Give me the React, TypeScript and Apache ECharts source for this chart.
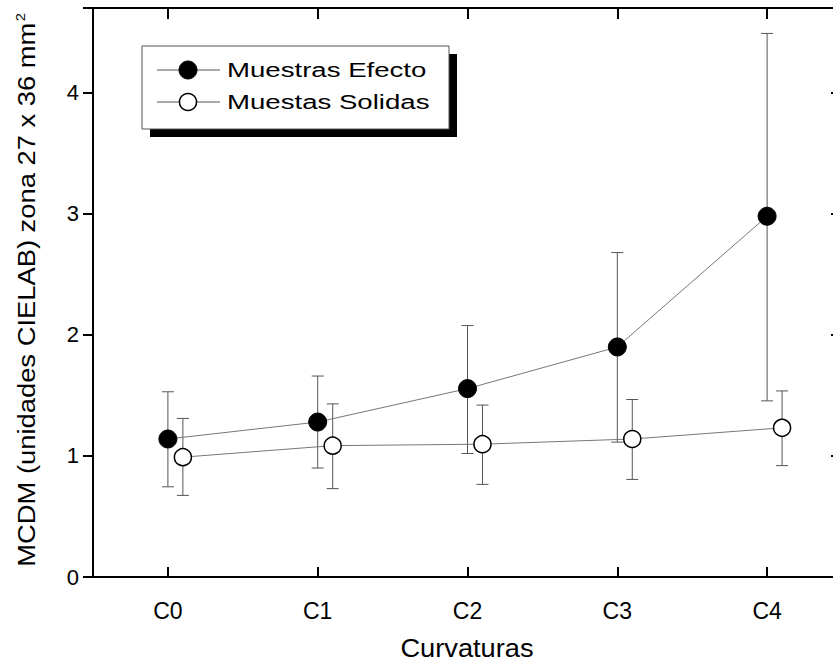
import React, { useEffect, useRef } from "react";
import * as echarts from "echarts";

const categories = ["C0", "C1", "C2", "C3", "C4"];
const efectoMean = [1.14, 1.28, 1.556, 1.9, 2.98];
const efectoLow = [0.745, 0.9, 1.02, 1.114, 1.455];
const efectoHigh = [1.53, 1.66, 2.077, 2.68, 4.49];
const solidasMean = [0.99, 1.085, 1.097, 1.14, 1.232];
const solidasLow = [0.674, 0.73, 0.765, 0.806, 0.92];
const solidasHigh = [1.31, 1.43, 1.42, 1.466, 1.537];
const solidasOffset = 0.1;
const yTicks = [0, 1, 2, 3, 4];
const legendNames = ["Muestras Efecto", "Muestas Solidas"];
const xTitle = "Curvaturas";
const yTitle = "MCDM (unidades CIELAB) zona 27 x 36 mm";

const FONT = "'Liberation Sans', Arial, sans-serif";

export default function App() {
  const ref = useRef<HTMLDivElement>(null);
  useEffect(() => {
    if (!ref.current) return;
    const chart = echarts.init(ref.current, null, { renderer: "svg" });
    const efPts = efectoMean.map((v, i) => [i, v]);
    const soPts = solidasMean.map((v, i) => [i + solidasOffset, v]);
    const efErr = efectoMean.map((_, i) => [i, efectoLow[i], efectoHigh[i]]);
    const soErr = solidasMean.map((_, i) => [i + solidasOffset, solidasLow[i], solidasHigh[i]]);

    const errRender = (params: any, api: any) => {
      const x = api.value(0);
      const lo = api.coord([x, api.value(1)]);
      const hi = api.coord([x, api.value(2)]);
      const cap = 6;
      const style = { stroke: "#555", lineWidth: 1 };
      return {
        type: "group",
        children: [
          { type: "line", shape: { x1: lo[0], y1: lo[1], x2: hi[0], y2: hi[1] }, style },
          { type: "line", shape: { x1: lo[0] - cap, y1: lo[1], x2: lo[0] + cap, y2: lo[1] }, style },
          { type: "line", shape: { x1: hi[0] - cap, y1: hi[1], x2: hi[0] + cap, y2: hi[1] }, style },
        ],
      };
    };

    const axisLine = { show: true, onZero: false, lineStyle: { color: "#000", width: 2 } };
    const tickStyle = { color: "#000", width: 2 };

    chart.setOption({
      animation: false,
      backgroundColor: "#fff",
      grid: { left: 93, top: 8, width: 749, height: 569, containLabel: false },
      xAxis: [
        {
          type: "category",
          data: categories,
          position: "bottom",
          boundaryGap: true,
          axisLine,
          axisTick: { show: true, inside: true, length: 10, alignWithLabel: true, lineStyle: tickStyle },
          axisLabel: { color: "#000", fontSize: 23, fontFamily: FONT, margin: 22 },
          splitLine: { show: false },
        },
        {
          type: "category",
          data: categories,
          position: "top",
          boundaryGap: true,
          axisLine,
          axisTick: { show: true, inside: true, length: 11, alignWithLabel: true, lineStyle: tickStyle },
          axisLabel: { show: false },
          splitLine: { show: false },
        },
        {
          type: "value",
          min: -0.5,
          max: 4.5,
          show: false,
          splitLine: { show: false },
        },
      ],
      yAxis: [
        {
          type: "value",
          min: 0,
          max: 4.7,
          interval: 1,
          position: "left",
          axisLine,
          axisTick: { show: true, inside: false, length: 10, lineStyle: tickStyle },
          axisLabel: {
            color: "#000",
            fontSize: 22,
            fontFamily: FONT,
            margin: 14,
            formatter: (v: number) => (yTicks.includes(v) ? String(v) : ""),
          },
          splitLine: { show: false },
        },
        {
          type: "value",
          min: 0,
          max: 4.7,
          interval: 1,
          position: "right",
          axisLine,
          axisTick: { show: true, inside: true, length: 11, lineStyle: tickStyle },
          axisLabel: { show: false },
          splitLine: { show: false },
        },
      ],
      series: [
        {
          type: "custom",
          xAxisIndex: 2,
          yAxisIndex: 0,
          data: efErr,
          renderItem: errRender,
          z: 1,
          silent: true,
        },
        {
          type: "custom",
          xAxisIndex: 2,
          yAxisIndex: 0,
          data: soErr,
          renderItem: errRender,
          z: 1,
          silent: true,
        },
        {
          name: legendNames[0],
          type: "line",
          xAxisIndex: 2,
          yAxisIndex: 0,
          data: efPts,
          symbol: "circle",
          symbolSize: 18,
          lineStyle: { color: "#777", width: 1 },
          itemStyle: { color: "#000", borderColor: "#000", borderWidth: 1 },
          z: 3,
        },
        {
          name: legendNames[1],
          type: "line",
          xAxisIndex: 2,
          yAxisIndex: 0,
          data: soPts,
          symbol: "circle",
          symbolSize: 17,
          lineStyle: { color: "#777", width: 1 },
          itemStyle: { color: "#fff", borderColor: "#000", borderWidth: 1.5 },
          z: 3,
        },
      ],
      graphic: [
        { type: "rect", shape: { x: 150, y: 54, width: 307, height: 83 }, style: { fill: "#000" }, z: 10 },
        { type: "rect", shape: { x: 142, y: 46, width: 307, height: 83 }, style: { fill: "#fff", stroke: "#555", lineWidth: 1 }, z: 11 },
        { type: "line", shape: { x1: 157, y1: 70, x2: 220, y2: 70 }, style: { stroke: "#555", lineWidth: 1 }, z: 12 },
        { type: "circle", shape: { cx: 188, cy: 70, r: 9 }, style: { fill: "#000", stroke: "#000" }, z: 13 },
        {
          type: "text",
          x: 227,
          y: 70,
          scaleX: 1.38,
          style: { text: legendNames[0], fill: "#000", font: `20px ${FONT}`, verticalAlign: "middle" },
          z: 13,
        },
        { type: "line", shape: { x1: 157, y1: 102, x2: 220, y2: 102 }, style: { stroke: "#555", lineWidth: 1 }, z: 12 },
        { type: "circle", shape: { cx: 188, cy: 102, r: 8.5 }, style: { fill: "#fff", stroke: "#000", lineWidth: 1.5 }, z: 13 },
        {
          type: "text",
          x: 227,
          y: 102,
          scaleX: 1.38,
          style: { text: legendNames[1], fill: "#000", font: `20px ${FONT}`, verticalAlign: "middle" },
          z: 13,
        },
        {
          type: "text",
          x: 467,
          y: 648,
          scaleX: 1.09,
          style: { text: xTitle, fill: "#000", font: `25px ${FONT}`, align: "center", verticalAlign: "middle" },
          z: 13,
        },
        {
          type: "text",
          x: 27,
          y: 290,
          rotation: Math.PI / 2,
          scaleX: 1.14,
          style: {
            text: yTitle + "{sup|2}",
            fill: "#000",
            font: `24px ${FONT}`,
            align: "center",
            verticalAlign: "middle",
            rich: { sup: { fontSize: 13, fontFamily: "Liberation Sans", fill: "#000", verticalAlign: "top", padding: [0, 0, 14, 1] } },
          },
          z: 13,
        },
      ],
    });
    return () => chart.dispose();
  }, []);
  return (
    <div style={{ position: "absolute", left: 0, top: 0, width: 833, height: 663, overflow: "hidden" }}>
      <div ref={ref} style={{ width: 860, height: 663 }} />
    </div>
  );
}
